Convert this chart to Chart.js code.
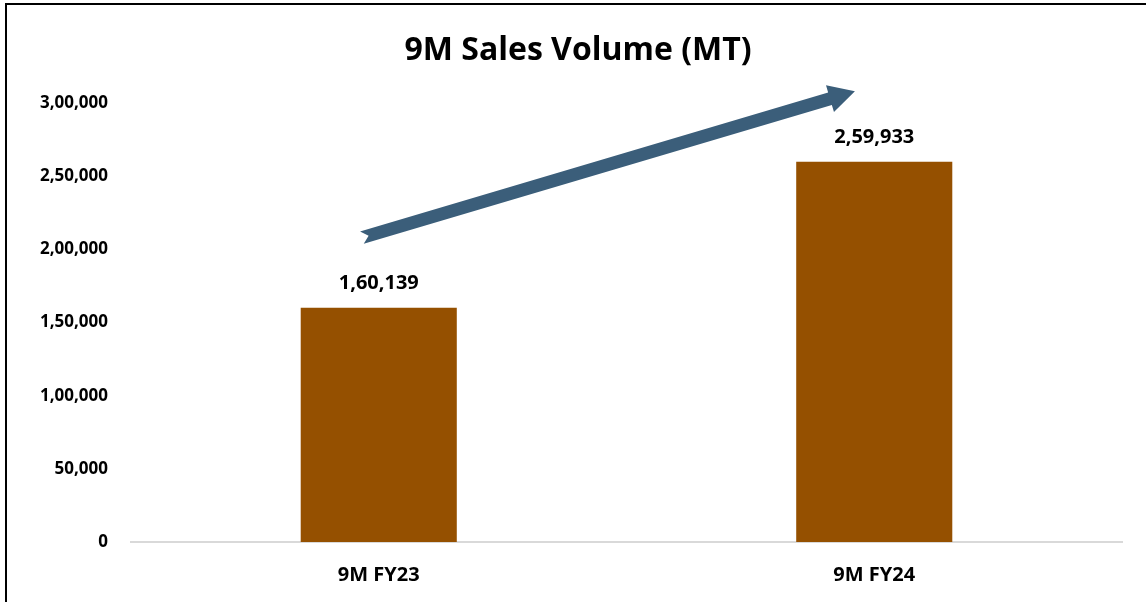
<!DOCTYPE html>
<html>
<head>
<meta charset="utf-8">
<script src="https://cdn.jsdelivr.net/npm/chart.js@4/dist/chart.umd.min.js"></script>
<style>
  html, body { margin: 0; padding: 0; background: #fff; overflow: hidden; }
  #wrap { position: relative; width: 1146px; height: 602px; }
  #frame { position: absolute; left: 5px; top: 3px; width: 1200px; height: 700px; border: 2px solid #000; box-sizing: border-box; pointer-events: none; }
  #title { position: absolute; left: 378px; width: 400px; top: 28px; text-align: center; font: bold 32px "Open Sans", Lato, sans-serif; line-height: 40px; color: #000; white-space: nowrap; }
  canvas { position: absolute; left: 0; top: 0; }
</style>
</head>
<body>
<div id="wrap">
  <canvas id="c" width="1146" height="602"></canvas>
  <div id="title">9M Sales Volume (MT)</div>
  <div id="frame"></div>
</div>
<script>
const categories = ['9M FY23', '9M FY24'];
const salesVolume = [160139, 259933];
const yTicks = [0, 50000, 100000, 150000, 200000, 250000, 300000];
const arrowFrom = { x: -0.034, y: 208000 };
const arrowTo = { x: 0.961, y: 308000 };

const FONT = '"Open Sans", Lato, sans-serif';
const fmt = v => Number(v).toLocaleString('en-IN');

const labelPlugin = {
  id: 'barLabels',
  afterDatasetsDraw(chart) {
    const ctx = chart.ctx;
    const meta = chart.getDatasetMeta(0);
    ctx.save();
    ctx.font = 'bold 20px ' + FONT;
    ctx.fillStyle = '#000';
    ctx.textAlign = 'center';
    ctx.textBaseline = 'middle';
    meta.data.forEach((bar, i) => {
      ctx.fillText(fmt(salesVolume[i]), bar.x, bar.y - 24);
    });
    ctx.restore();
  }
};

const arrowPlugin = {
  id: 'trendArrow',
  afterDatasetsDraw(chart) {
    const { ctx, scales: { x, y } } = chart;
    const x0 = x.getPixelForValue(arrowFrom.x), y0 = y.getPixelForValue(arrowFrom.y);
    const x1 = x.getPixelForValue(arrowTo.x), y1 = y.getPixelForValue(arrowTo.y);
    const L = Math.hypot(x1 - x0, y1 - y0);
    const a = Math.atan2(y1 - y0, x1 - x0);
    const hw = 6.5, headW = 14, headL = 26, notch = 7;
    ctx.save();
    ctx.translate(x0, y0);
    ctx.rotate(a);
    ctx.beginPath();
    ctx.moveTo(0, -hw);
    ctx.lineTo(L - headL, -hw);
    ctx.lineTo(L - headL, -headW);
    ctx.lineTo(L, 0);
    ctx.lineTo(L - headL, headW);
    ctx.lineTo(L - headL, hw);
    ctx.lineTo(0, hw);
    ctx.lineTo(notch, 0);
    ctx.closePath();
    ctx.fillStyle = '#3b5e7a';
    ctx.fill();
    ctx.restore();
  }
};

new Chart(document.getElementById('c'), {
  type: 'bar',
  data: {
    labels: categories,
    datasets: [{
      data: salesVolume,
      backgroundColor: '#955000',
      barPercentage: 0.315,
      categoryPercentage: 1
    }]
  },
  options: {
    responsive: false,
    animation: false,
    layout: { padding: { left: 0, right: 24, top: 103, bottom: 0 } },
    plugins: {
      legend: { display: false },
      tooltip: { enabled: false },
      title: { display: false }
    },
    scales: {
      x: {
        grid: { display: false, drawTicks: false },
        border: { display: true, color: '#d9d9d9', width: 2 },
        ticks: { color: '#000', font: { family: FONT, size: 20, weight: 'bold' }, padding: 21 },
        afterFit(s) { s.height = 60; }
      },
      y: {
        min: 0, max: 300000,
        afterBuildTicks(s) { s.ticks = yTicks.map(v => ({ value: v })); },
        grid: { display: false, drawTicks: false },
        border: { display: false },
        ticks: { color: '#000', font: { family: FONT, size: 17, weight: 'bold' }, padding: 23, callback: v => fmt(v) },
        afterFit(s) { s.width = 131; }
      }
    }
  },
  plugins: [labelPlugin, arrowPlugin]
});
</script>
</body>
</html>
